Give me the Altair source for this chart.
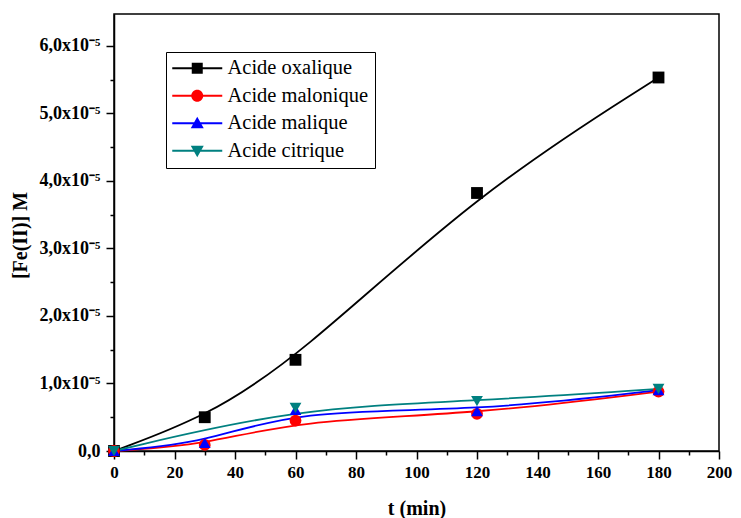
import altair as alt
import pandas as pd

# ---- data ----
series = ["Acide oxalique", "Acide malonique", "Acide malique", "Acide citrique"]
colors = ["#000000", "#ff0000", "#0000ff", "#008080"]

t_oxalique = [0, 30, 60, 120, 180]
v_oxalique = [0.0, 0.50e-5, 1.35e-5, 3.82e-5, 5.53e-5]

t_malonique = [0, 30, 60, 120, 180]
v_malonique = [0.0, 0.09e-5, 0.45e-5, 0.55e-5, 0.88e-5]

t_malique = [0, 30, 60, 120, 180]
v_malique = [0.0, 0.12e-5, 0.61e-5, 0.59e-5, 0.90e-5]

t_citrique = [0, 60, 120, 180]
v_citrique = [0.0, 0.64e-5, 0.74e-5, 0.92e-5]

x_ticks = list(range(0, 201, 10))
y_ticks = [i * 0.5e-5 for i in range(13)]

# ---- styles ----
point_shapes = ["square", "circle", "triangle-up", "triangle-down"]
line_bar = "M-2.5,-0.09H2.5V0.09H-2.5Z "
legend_paths = [
    line_bar + "M-0.55,-0.55H0.55V0.55H-0.55Z",
    line_bar + "M0.6,0A0.6,0.6 0 1,1 -0.6,0A0.6,0.6 0 1,1 0.6,0Z",
    line_bar + "M0,-0.65L0.65,0.5L-0.65,0.5Z",
    line_bar + "M0,0.65L-0.65,-0.5L0.65,-0.5Z",
]

rows = []
for name, ts, vs in [
    (series[0], t_oxalique, v_oxalique),
    (series[1], t_malonique, v_malonique),
    (series[2], t_malique, v_malique),
    (series[3], t_citrique, v_citrique),
]:
    for t, v in zip(ts, vs):
        rows.append({"t": t, "v": v, "serie": name})
df = pd.DataFrame(rows)

FONT = "Liberation Serif"
W, H = 605, 437

x_enc = alt.X(
    "t:Q",
    scale=alt.Scale(domain=[0, 200], nice=False),
    axis=alt.Axis(
        values=x_ticks,
        labelExpr="datum.value % 20 === 0 ? datum.label : ''",
        format="d",
        tickSize={"condition": {"test": "datum.value % 20 === 0", "value": 8}, "value": 4},
        labelPadding=5,
        labelFontSize=17,
        title="t (min)",
        titleX=W / 2,
        titleY=57,
        titleBaseline="middle",
        labelFlush=False,
        labelOverlap=False,
    ),
)
y_enc = alt.Y(
    "v:Q",
    scale=alt.Scale(domain=[0, 6.47e-5], nice=False),
    axis=alt.Axis(
        values=y_ticks,
        labelExpr=(
            "round(datum.value*2e5) % 2 !== 0 ? '' : (datum.value === 0 ? '0,0' : "
            "replace(format(datum.value*1e5, '.1f'), '.', ',') + 'x10\u207b\u2075')"
        ),
        tickSize={"condition": {"test": "round(datum.value*2e5) % 2 === 0", "value": 8}, "value": 4},
        labelPadding=6,
        title="[Fe(II)] M",
        titleX=-94,
        titleY=221,
        titleBaseline="middle",
        labelFlush=False,
        labelOverlap=False,
    ),
)

lines = alt.Chart(df).mark_line(interpolate="basis", strokeWidth=1.8).encode(
    x=x_enc,
    y=y_enc,
    color=alt.Color("serie:N", scale=alt.Scale(domain=series, range=colors), legend=None),
    detail="serie:N",
)

points = alt.Chart(df).mark_point(filled=True, size=140, opacity=1).encode(
    x=x_enc,
    y=y_enc,
    color=alt.Color("serie:N", scale=alt.Scale(domain=series, range=colors), legend=None),
    shape=alt.Shape("serie:N", scale=alt.Scale(domain=series, range=point_shapes), legend=None),
)

leg = alt.Legend(
    title=None,
    orient="none",
    legendX=52,
    legendY=38,
    labelFont=FONT,
    labelFontSize=20.5,
    labelFontWeight="normal",
    labelColor="black",
    labelLimit=300,
    strokeColor="black",
    fillColor="white",
    padding=6,
    symbolSize=400,
    symbolOffset=15,
    labelOffset=20,
    rowPadding=6.5,
    symbolStrokeWidth=0,
    symbolOpacity=1,
)

legend_layer = alt.Chart(df).transform_filter("false").mark_point(filled=True, size=400, opacity=1).encode(
    x=x_enc,
    y=y_enc,
    color=alt.Color("serie:N", scale=alt.Scale(domain=series, range=colors), legend=leg),
    shape=alt.Shape("serie:N", scale=alt.Scale(domain=series, range=legend_paths), legend=leg),
)

chart = (
    alt.layer(lines, points, legend_layer)
    .resolve_scale(color="independent", shape="independent")
    .properties(
        width=W,
        height=H,
        autosize=alt.AutoSizeParams(type="none"),
        padding={"left": 106, "top": 6, "right": 14, "bottom": 67},
        background="white",
    )
    .configure_view(stroke="black", strokeWidth=1.5)
    .configure_axis(
        grid=False,
        domainColor="black",
        domainWidth=1.5,
        tickColor="black",
        tickWidth=1.5,
        labelFont=FONT,
        labelFontSize=18,
        labelFontWeight="bold",
        labelColor="black",
        titleFont=FONT,
        titleFontSize=20,
        titleFontWeight="bold",
        titleColor="black",
    )
)

chart.save("out.html", embed_options={"renderer": "svg", "actions": False})
